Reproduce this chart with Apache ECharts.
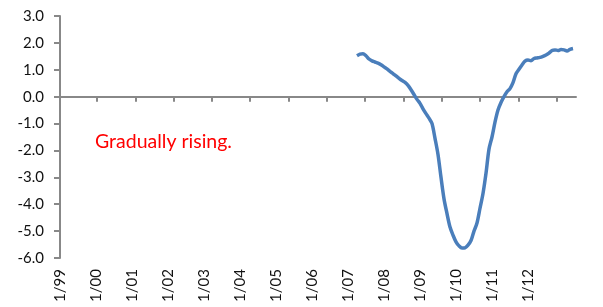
<!DOCTYPE html>
<html>
<head>
<meta charset="utf-8">
<script src="https://cdn.jsdelivr.net/npm/echarts@6/dist/echarts.min.js"></script>
<style>
  html, body { margin: 0; padding: 0; background: #fff; }
  #chart { width: 603px; height: 307px; }
</style>
</head>
<body>
<div id="chart"></div>
<script>
  // months counted from 1/99 (0 = Jan 1999)
  var startMonth = 99;
  var values = [
    1.52, 1.58, 1.60, 1.52, 1.40, 1.33, 1.29, 1.25, 1.19, 1.11,
    1.03, 0.94, 0.86, 0.77, 0.68, 0.60, 0.53, 0.42, 0.26, 0.08,
    -0.10, -0.25, -0.45, -0.63, -0.80, -1.00, -1.55, -2.15, -3.00, -3.80,
    -4.35, -4.85, -5.15, -5.40, -5.55, -5.63, -5.62, -5.52, -5.35, -5.00,
    -4.70, -4.15, -3.60, -2.85, -1.95, -1.50, -0.95, -0.50, -0.22, 0.00,
    0.18, 0.30, 0.52, 0.85, 1.02, 1.18, 1.32, 1.36, 1.34, 1.42,
    1.44, 1.46, 1.50, 1.55, 1.62, 1.72, 1.74, 1.72, 1.75, 1.74,
    1.70, 1.76, 1.79
  ];
  var labelMonths = [0, 12, 24, 36, 48, 60, 72, 84, 96, 108, 120, 132, 144, 156];
  var labelTexts = ['1/99', '1/00', '1/01', '1/02', '1/03', '1/04', '1/05', '1/06', '1/07', '1/08', '1/09', '1/10', '1/11', '1/12'];
  var tickMonths = [12.3, 25.1, 37.8, 50.6, 63.4, 76.1, 88.9, 101.7, 114.5, 127.2, 140.0, 152.8, 165.5];

  var points = values.map(function (v, i) { return [startMonth + i, v]; });
  var axisColor = '#888888';
  var font = 'Lato, "Open Sans", sans-serif';

  var option = {
    animation: false,
    grid: { left: 60, right: 27, top: 16, bottom: 49, containLabel: false, outerBoundsMode: 'none' },
    xAxis: {
      type: 'value',
      min: 0,
      max: 172,
      splitLine: { show: false },
      axisLine: { onZero: true, lineStyle: { color: axisColor, width: 2 } },
      axisTick: { show: true, customValues: tickMonths, length: 5, lineStyle: { color: axisColor, width: 2 } },
      axisLabel: {
        customValues: labelMonths,
        rotate: 90,
        margin: 11,
        color: '#111',
        fontFamily: font,
        fontSize: 15,
        formatter: function (v) {
          var i = labelMonths.indexOf(Math.round(v));
          return i >= 0 ? labelTexts[i] : '';
        }
      }
    },
    yAxis: {
      type: 'value',
      min: -6,
      max: 3,
      interval: 1,
      splitLine: { show: false },
      axisLine: { show: true, onZero: false, lineStyle: { color: axisColor, width: 2 } },
      axisTick: { show: true, length: 6, lineStyle: { color: axisColor, width: 2 } },
      axisLabel: {
        margin: 16,
        color: '#111',
        fontFamily: font,
        fontSize: 15,
        formatter: function (v) { return v.toFixed(1); }
      }
    },
    graphic: [{
      type: 'text',
      left: 95,
      top: 132,
      style: { text: 'Gradually rising.', fill: '#ff0000', font: '19.5px ' + font }
    }],
    series: [{
      type: 'line',
      data: points,
      showSymbol: false,
      smooth: 0.3,
      lineStyle: { color: '#4a7ebb', width: 3.5 }
    }]
  };

  echarts.init(document.getElementById('chart')).setOption(option);
</script>
</body>
</html>
